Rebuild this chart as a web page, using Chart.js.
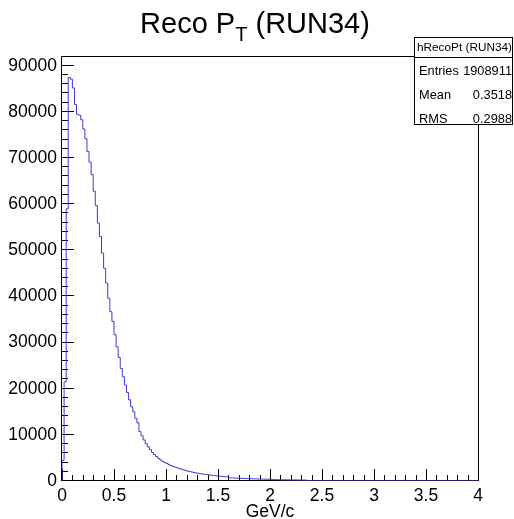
<!DOCTYPE html>
<html lang="en">
<head>
<meta charset="UTF-8">
<title>Reco PT (RUN34)</title>
<script src="https://cdn.jsdelivr.net/npm/chart.js@4"></script>
<style>
    body { margin: 0; background: #fff; }
    canvas { display: block; }
</style>
</head>
<body>
<canvas id="grafico" width="514" height="519"></canvas>
<script>
    // histograma hRecoPt: 200 bins de 0.02 GeV/c entre 0 e 4
    var binWidth = 0.02
    var contagens = [
        4500, 21500, 59000, 87500, 87100, 85200, 81600, 79500, 79300, 78300,
        76300, 74200, 71400, 69100, 66400, 62800, 59700, 55900, 53000, 49400,
        46100, 42900, 39600, 36700, 34600, 31700, 29100, 26800, 24400, 22600,
        20800, 19200, 17600, 16100, 15000, 13600, 12600, 10700, 9800, 8900,
        8100, 7400, 6800, 6200, 5700, 5300, 4900, 4550, 4250, 4000,
        3800, 3550, 3350, 3150, 3000, 2850, 2700, 2550, 2400, 2280,
        2150, 2050, 1950, 1850, 1750, 1670, 1600, 1520, 1450, 1390,
        1330, 1270, 1210, 1160, 1110, 1060, 1020, 980, 940, 900,
        700, 670, 650, 625, 600, 575, 560, 545, 525, 510,
        490, 475, 460, 450, 435, 425, 410, 400, 390, 375,
        320, 310, 300, 295, 285, 275, 270, 265, 255, 250,
        240, 235, 230, 225, 215, 210, 205, 200, 0, 0,
        0, 0, 0, 0, 0, 0, 0, 0, 0, 0, 0, 0, 0, 0, 0, 0, 0, 0, 0, 0,
        0, 0, 0, 0, 0, 0, 0, 0, 0, 0, 0, 0, 0, 0, 0, 0, 0, 0, 0, 0,
        0, 0, 0, 0, 0, 0, 0, 0, 0, 0, 0, 0, 0, 0, 0, 0, 0, 0, 0, 0,
        0, 0, 0, 0, 0, 0, 0, 0, 0, 0, 0, 0, 0, 0, 0, 0, 0, 0, 0, 0
    ]

    var marcasX = [0, 0.5, 1, 1.5, 2, 2.5, 3, 3.5, 4]
    var marcasY = [0, 10000, 20000, 30000, 40000, 50000, 60000, 70000, 80000, 90000]
    var tituloEixoX = 'GeV/c'

    var statsNome = 'hRecoPt (RUN34)'
    var statsRotulos = ['Entries', 'Mean', 'RMS']
    var statsValores = ['1908911', '0.3518', '0.2988']

    var fonte = '"Liberation Sans", Arial, Helvetica, sans-serif'

    // pontos nas bordas esquerdas dos bins (degrau "before")
    var pontos = [{ x: 0, y: 0 }]
    for (var i = 0; i < contagens.length; i++) {
        pontos.push({ x: i * binWidth, y: contagens[i] })
    }
    pontos.push({ x: contagens.length * binWidth, y: contagens[contagens.length - 1] })

    function linha(ctx, x0, y0, x1, y1) {
        ctx.beginPath()
        ctx.moveTo(x0, y0)
        ctx.lineTo(x1, y1)
        ctx.stroke()
    }

    var estiloRoot = {
        id: 'estiloRoot',
        beforeDatasetsDraw(chart) {
            var ctx = chart.ctx
            var a = chart.chartArea
            var sx = chart.scales.x
            var sy = chart.scales.y
            ctx.save()
            ctx.strokeStyle = '#000'
            ctx.lineWidth = 1

            // ticks do eixo x (para dentro)
            for (var k = 0; k <= 40; k++) {
                var px = Math.round(sx.getPixelForValue(k * 0.1)) + 0.5
                var len = (k % 5 == 0) ? 12 : 6
                linha(ctx, px, a.bottom, px, a.bottom - len)
            }
            // ticks do eixo y
            for (var v = 0; v <= sy.max; v += 2000) {
                var py = Math.round(sy.getPixelForValue(v)) - 0.5
                var leny = (v % 10000 == 0) ? 12 : 6
                linha(ctx, a.left, py, a.left + leny, py)
            }
            // moldura
            ctx.strokeRect(Math.round(a.left) - 0.5, Math.round(a.top) - 0.5,
                Math.round(a.right - a.left) + 1, Math.round(a.bottom - a.top))
            ctx.restore()
        },
        afterDraw(chart) {
            var ctx = chart.ctx
            ctx.save()

            // titulo com subscrito
            var partes = [
                { t: 'Reco P', s: 29, dy: 0 },
                { t: 'T', s: 20, dy: 8 },
                { t: ' (RUN34)', s: 29, dy: 0 }
            ]
            var total = 0
            partes.forEach(function (p) {
                ctx.font = p.s + 'px ' + fonte
                p.w = ctx.measureText(p.t).width
                total += p.w
            })
            var x = 255 - total / 2
            ctx.fillStyle = '#000'
            ctx.textBaseline = 'alphabetic'
            ctx.textAlign = 'left'
            partes.forEach(function (p) {
                ctx.font = p.s + 'px ' + fonte
                ctx.fillText(p.t, x, 33 + p.dy)
                x += p.w
            })

            // caixa de estatisticas
            var bx0 = 414.5, by0 = 37.5, bx1 = 512.5, by1 = 124.5
            ctx.fillStyle = '#fff'
            ctx.fillRect(bx0, by0, bx1 - bx0, by1 - by0)
            ctx.strokeStyle = '#000'
            ctx.lineWidth = 1
            ctx.strokeRect(bx0, by0, bx1 - bx0, by1 - by0)
            linha(ctx, bx0, 57.5, bx1, 57.5)

            ctx.fillStyle = '#000'
            ctx.font = '11.8px ' + fonte
            ctx.textBaseline = 'middle'
            ctx.textAlign = 'center'
            ctx.fillText(statsNome, (bx0 + bx1) / 2 + 1, 47.5)
            ctx.font = '12.8px ' + fonte
            var linhasY = [71, 95.5, 119]
            for (var r = 0; r < statsRotulos.length; r++) {
                ctx.textAlign = 'left'
                ctx.fillText(statsRotulos[r], 419, linhasY[r])
                ctx.textAlign = 'right'
                ctx.fillText(statsValores[r], 512, linhasY[r])
            }
            ctx.restore()
        }
    }

    var fonteEixo = { family: fonte, size: 17.5 }

    new Chart(document.getElementById('grafico'), {
        type: 'line',
        data: {
            datasets: [{
                data: pontos,
                borderColor: 'rgb(60, 60, 210)',
                borderWidth: 1,
                pointRadius: 0,
                stepped: true,
                fill: false,
                tension: 0
            }]
        },
        options: {
            responsive: false,
            animation: false,
            events: [],
            layout: { padding: { top: 57, right: 36, left: 0, bottom: 0 } },
            plugins: {
                legend: { display: false },
                tooltip: { enabled: false },
                title: { display: false }
            },
            scales: {
                x: {
                    type: 'linear',
                    min: 0,
                    max: 4,
                    afterBuildTicks: function (s) { s.ticks = marcasX.map(function (v) { return { value: v } }) },
                    afterFit: function (s) { s.height = 38 },
                    grid: { display: false, drawTicks: false },
                    border: { display: false },
                    ticks: {
                        font: fonteEixo, color: '#000', padding: 5,
                        maxRotation: 0, autoSkip: false,
                        callback: function (v) { return String(v) }
                    },
                    title: {
                        display: true, text: tituloEixoX, color: '#000',
                        font: { family: fonte, size: 17.5, lineHeight: 1 },
                        padding: { top: 0, bottom: -2 }
                    }
                },
                y: {
                    min: 0,
                    max: 91900,
                    afterBuildTicks: function (s) { s.ticks = marcasY.map(function (v) { return { value: v } }) },
                    afterFit: function (s) { s.width = 62 },
                    grid: { display: false, drawTicks: false },
                    border: { display: false },
                    ticks: {
                        font: fonteEixo, color: '#000', padding: 5,
                        callback: function (v) { return String(v) }
                    }
                }
            }
        },
        plugins: [estiloRoot]
    })
</script>
</body>
</html>
